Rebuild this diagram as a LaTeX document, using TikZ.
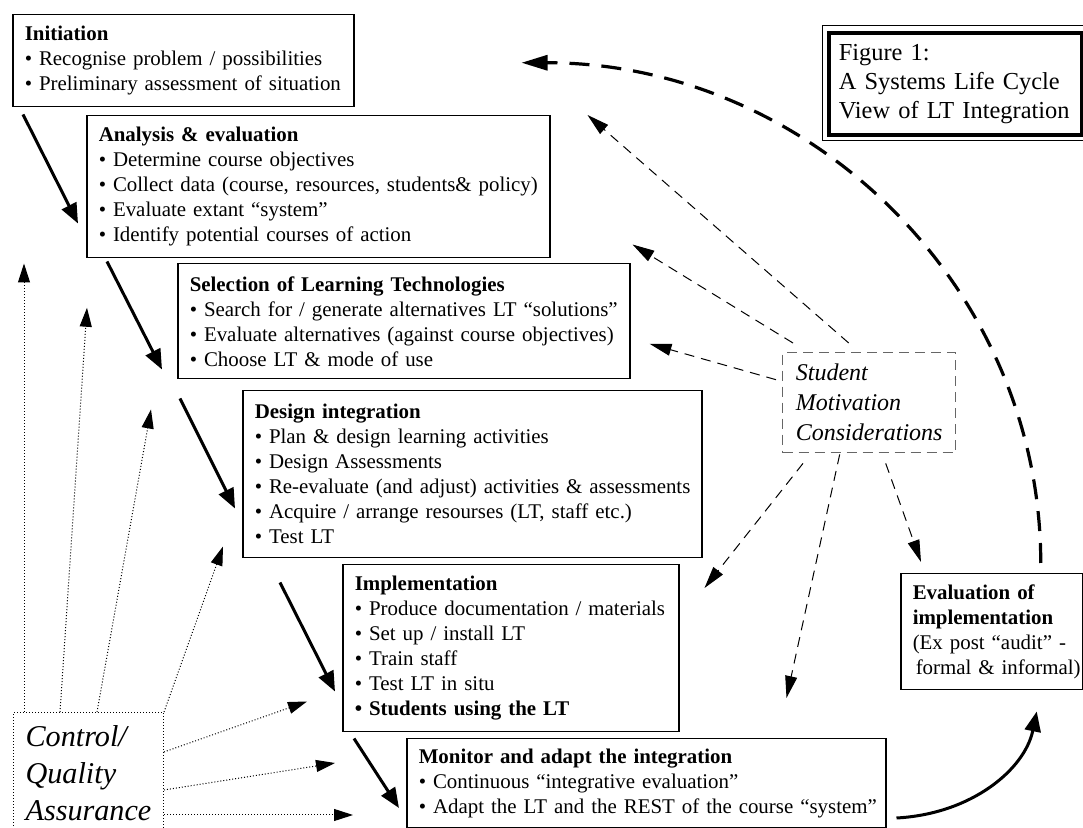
\documentclass[tikz,border=0pt]{standalone}
\usepackage{fontspec}
\setmainfont{Liberation Serif}
\usetikzlibrary{arrows.meta}

% one bullet point, kept on a single line
\newcommand{\bul}[1]{\mbox{\textbullet\ #1}}

\tikzset{
  stage/.style={draw, line width=0.75pt, anchor=north west, align=left,
    inner xsep=6pt, inner ysep=0pt, font=\fontsize{10.45}{12.5}\selectfont},
  flow/.style={line width=1.5pt, -{Triangle[length=10pt,width=8pt]}},
  loopback/.style={line width=1.6pt, dash pattern=on 10pt off 6pt,
    -{Triangle[length=13pt,width=7.5pt]}},
  motiv/.style={line width=0.5pt, dash pattern=on 5pt off 3.5pt,
    -{Triangle[length=11pt,width=6pt]}},
  qual/.style={line width=0.5pt, densely dotted,
    -{Triangle[length=9.5pt,width=6pt]}}
}

\begin{document}
\begin{tikzpicture}[x=0.5pt,y=-0.5pt]
\useasboundingbox (0,0) rectangle (1083,828);

% stages of the life cycle
\node[stage, text width=158.5pt, minimum height=46pt] (init) at (12,14)
  {\textbf{Initiation}\\
   \bul{Recognise problem / possibilities}\\
   \bul{Preliminary assessment of situation}};
\node[stage, text width=219.5pt, minimum height=71pt] (ana) at (86,115)
  {\textbf{Analysis \& evaluation}\\
   \bul{Determine course objectives}\\
   \bul{Collect data (course, resources, students\& policy)}\\
   \bul{Evaluate extant “system”}\\
   \bul{Identify potential courses of action}};
\node[stage, text width=214pt, minimum height=57.5pt] (sel) at (177,263)
  {\textbf{Selection of Learning Technologies}\\
   \bul{Search for / generate alternatives LT “solutions”}\\
   \bul{Evaluate alternatives (against course objectives)}\\
   \bul{Choose LT \& mode of use}};
\node[stage, text width=217.5pt, minimum height=83.5pt] (des) at (242,390)
  {\textbf{Design integration}\\
   \bul{Plan \& design learning activities}\\
   \bul{Design Assessments}\\
   \bul{Re-evaluate (and adjust) activities \& assessments}\\
   \bul{Acquire / arrange resourses (LT, staff etc.)}\\
   \bul{Test LT}};
\node[stage, text width=156pt, minimum height=83.5pt] (imp) at (342,564)
  {\textbf{Implementation}\\
   \bul{Produce documentation / materials}\\
   \bul{Set up / install LT}\\
   \bul{Train staff}\\
   \bul{Test LT in situ}\\
   \textbf{\bul{Students using the LT}}};
\node[stage, text width=227.5pt, minimum height=44.5pt] (mon) at (406,738)
  {\textbf{Monitor and adapt the integration}\\
   \bul{Continuous “integrative evaluation”}\\
   \bul{Adapt the LT and the REST of the course “system”}};
\node[stage, text width=79pt, minimum height=58pt] (eva) at (900,573)
  {\textbf{Evaluation of}\\
   \textbf{implementation}\\
   (Ex post “audit” -\\
   \mbox{\hspace{1.5pt}formal \& informal)}};

% title box with its double frame
\node[draw, line width=1.8pt, anchor=north west, align=left, text width=116.5pt,
  inner xsep=5pt, minimum height=51pt, font=\fontsize{12.2}{14.5}\selectfont] (fig) at (827,31)
  {Figure 1:\\A Systems Life Cycle\\View of LT Integration};
\draw[line width=0.5pt] ([shift={(-5,-5)}]fig.north west) rectangle ([shift={(4,4)}]fig.south east);

% side influences
\node[draw=black!60, line width=0.7pt, dash pattern=on 5pt off 3pt, anchor=north west,
  align=left, minimum width=86.5pt, minimum height=50pt,
  font=\fontsize{12}{15}\selectfont\itshape] (smc) at (782,352)
  {Student\\Motivation\\Considerations};
\node[draw, line width=0.5pt, densely dotted, anchor=north west, align=left,
  minimum width=75pt, inner ysep=6.5pt,
  font=\fontsize{15.1}{18.5}\selectfont\itshape] (cqa) at (13,712)
  {Control/\\Quality\\Assurance};

% main sequence
\draw[flow] ([shift={(11,7)}]init.south west) -- ([shift={(-8,-35)}]ana.south west);
\draw[flow] ([shift={(21,3)}]ana.south west) -- ([shift={(-15,-10)}]sel.south west);
\draw[flow] ([shift={(3,19)}]sel.south west) -- ([shift={(-7,-50)}]des.south west);
\draw[flow] ([shift={(38,24)}]des.south west) -- ([shift={(-7,-41)}]imp.south west);
\draw[flow] ([shift={(12,6)}]imp.south west) -- ([shift={(-7,70)}]mon.north west);
\draw[flow] ([shift={(10,80)}]mon.north east) .. controls +(75,-4) and +(-12,58) .. ([shift={(45,21)}]eva.south);
% back to the start
\draw[loopback] ([shift={(49,-10)}]eva.north) .. controls +(0,-277) and +(287,0) .. ([shift={(167,2)}]init.east);

% motivation arrows
\draw[motiv] ([shift={(-20.5,-9)}]smc.north) -- ([shift={(37,0)}]ana.north east);
\draw[motiv] ([shift={(11,-9)}]smc.north west) -- ([shift={(82,-14)}]ana.south east);
\draw[motiv] ([shift={(-6,-23)}]smc.west) -- ([shift={(19,22.5)}]sel.east);
\draw[motiv] ([shift={(21,10)}]smc.south west) -- ([shift={(25,24)}]imp.north east);
\draw[motiv] ([shift={(-29.5,1)}]smc.south) -- ([shift={(-100,-40)}]mon.north east);
\draw[motiv] ([shift={(16.5,10)}]smc.south) -- ([shift={(21,-11)}]eva.north west);

% quality control arrows
\draw[qual] ([shift={(11,0)}]cqa.north west) -- ([shift={(-62,5)}]ana.south west);
\draw[qual] ([shift={(47,0)}]cqa.north west) -- ([shift={(-90,-13.5)}]sel.west);
\draw[qual] ([shift={(84,0)}]cqa.north west) -- ([shift={(-26,30)}]sel.south west);
\draw[qual] (cqa.north east) -- ([shift={(-19,-12)}]des.south west);
\draw[qual] ([shift={(0,40)}]cqa.north east) -- ([shift={(-35,-31)}]imp.south west);
\draw[qual] ([shift={(0,78)}]cqa.north east) -- ([shift={(-71,25)}]mon.north west);
\draw[qual] ([shift={(0,103)}]cqa.north east) -- ([shift={(-53,77)}]mon.north west);
\end{tikzpicture}
\end{document}
